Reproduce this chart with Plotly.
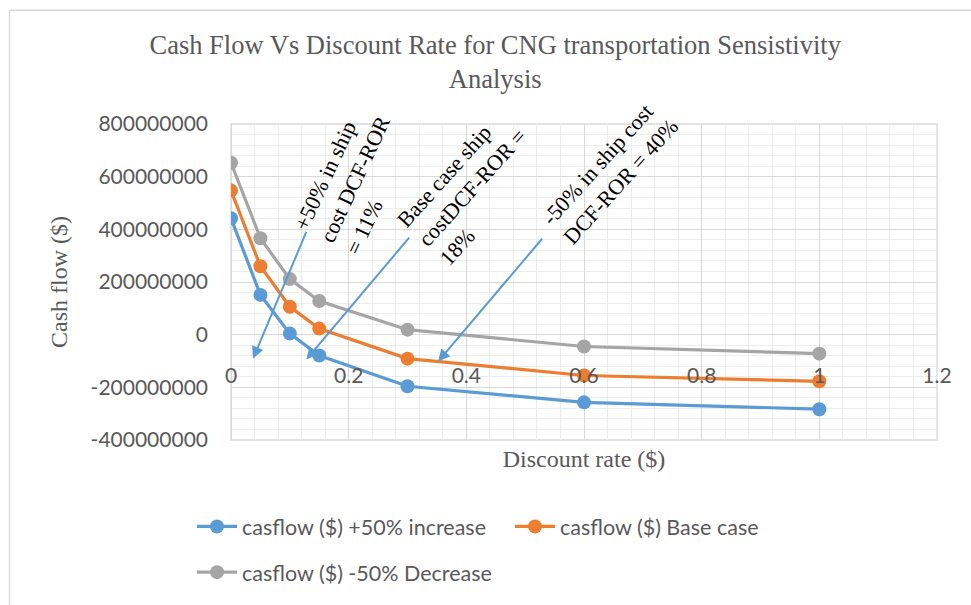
import plotly.graph_objects as go

# Discount rates evaluated and the resulting cash flow for each ship-cost case
discount_rate = [0, 0.05, 0.1, 0.15, 0.3, 0.6, 1.0]
cash_increase = [442e6, 151e6, 4e6, -79e6, -196e6, -257e6, -283e6]
cash_base = [547e6, 260e6, 106e6, 23e6, -91e6, -155e6, -177e6]
cash_decrease = [653e6, 366e6, 211e6, 128e6, 19e6, -45e6, -72e6]

series_names = ["casflow ($) +50% increase", "casflow ($) Base case", "casflow ($) -50% Decrease"]
series_colors = ["#5B9BD5", "#ED7D31", "#A5A5A5"]

y_tick_vals = [-400e6, -200e6, 0, 200e6, 400e6, 600e6, 800e6]
y_tick_text = ["-400000000", "-200000000", "0", "200000000", "400000000", "600000000", "800000000"]
x_tick_vals = [0, 0.2, 0.4, 0.6, 0.8, 1.0, 1.2]
x_tick_text = ["0", "0.2", "0.4", "0.6", "0.8", "1", "1.2"]

# Callouts: label text, text anchor, text angle, arrow tail and arrow tip (data units)
callout_text = [
    "+50% in ship<br>cost DCF-ROR<br>= 11%",
    "Base case ship<br>costDCF-ROR =<br>18%",
    "-50% in ship cost<br>DCF-ROR = 40%",
]
callout_pos = [(0.211, 590e6), (0.411, 559e6), (0.645, 616e6)]
callout_angle = [-65, -48, -48]
arrow_tail = [(0.129, 396e6), (0.305, 374e6), (0.531, 370e6)]
arrow_tip = [(0.0374, -91e6), (0.128, -94e6), (0.352, -102e6)]

GREY_TXT = "#595959"
GRID = "#D9D9D9"
SERIF = "Liberation Serif, Times New Roman, serif"
SANS = "Lato, Calibri, sans-serif"

fig = go.Figure()
legend_ids = ["legend", "legend2", "legend3"]
for name, ys, color, lg in zip(series_names, [cash_increase, cash_base, cash_decrease], series_colors, legend_ids):
    fig.add_trace(go.Scatter(
        x=discount_rate, y=ys, name=name, mode="lines+markers",
        line=dict(color=color, width=3.2),
        marker=dict(color=color, size=14),
        legend=lg, showlegend=True,
    ))

annotations = []
for txt, (tx, ty), ang in zip(callout_text, callout_pos, callout_angle):
    annotations.append(dict(
        x=tx, y=ty, xref="x", yref="y", text=txt, showarrow=False,
        textangle=ang, align="left",
        font=dict(family=SERIF, size=22, color="#000000"),
    ))
for (ax_, ay_), (hx, hy) in zip(arrow_tail, arrow_tip):
    annotations.append(dict(
        x=hx, y=hy, ax=ax_, ay=ay_, xref="x", yref="y", axref="x", ayref="y",
        text="", showarrow=True, arrowhead=2, arrowsize=1.2, arrowwidth=2,
        arrowcolor="#5B9BD5", standoff=0,
    ))

legend_style = dict(
    orientation="h", bgcolor="rgba(0,0,0,0)", borderwidth=0,
    font=dict(family=SANS, size=21.5, color=GREY_TXT),
    xanchor="left", yanchor="middle", itemwidth=40,
)

fig.update_layout(
    width=971, height=605,
    margin=dict(l=231, r=34, t=124, b=163),
    paper_bgcolor="white", plot_bgcolor="white",
    showlegend=True,
    title=dict(
        text="Cash Flow Vs Discount Rate for CNG transportation Sensistivity<br>Analysis",
        x=0.51, xanchor="center", xref="container",
        y=1 - 54 / 605, yanchor="middle", yref="container",
        font=dict(family=SERIF, size=26.5, color=GREY_TXT),
    ),
    # the value axis crosses at zero, so the discount-rate labels sit inside the plot
    xaxis=dict(
        range=[0, 1.2], tickvals=x_tick_vals, ticktext=x_tick_text,
        anchor="free", position=(442 - 362) / 318,
        tickfont=dict(family=SANS, size=21, color=GREY_TXT),
        showgrid=True, gridcolor=GRID, gridwidth=1.3,
        minor=dict(dtick=0.04, showgrid=True, gridcolor="#EDEDED", gridwidth=1.3),
        zeroline=True, zerolinecolor=GRID, zerolinewidth=1.3,
        showline=False,
        title=dict(text="Discount rate ($)", font=dict(family=SERIF, size=24, color=GREY_TXT), standoff=64),
    ),
    yaxis=dict(
        range=[-400e6, 800e6], tickvals=y_tick_vals, ticktext=y_tick_text,
        showgrid=True, gridcolor=GRID, gridwidth=1.3,
        minor=dict(dtick=40e6, showgrid=True, gridcolor="#EDEDED", gridwidth=1.3),
        zeroline=True, zerolinecolor=GRID, zerolinewidth=1.3,
        showline=False,
        ticklabelstandoff=22,
        tickfont=dict(family=SANS, size=21, color=GREY_TXT),
        title=dict(text="Cash flow ($)", font=dict(family=SERIF, size=24, color=GREY_TXT), standoff=16),
    ),
    legend=dict(x=(192 - 231) / 706, y=(442 - 529) / 318, **legend_style),
    legend2=dict(x=(510 - 231) / 706, y=(442 - 529) / 318, **legend_style),
    legend3=dict(x=(192 - 231) / 706, y=(442 - 575) / 318, **legend_style),
    annotations=annotations,
    shapes=[
        # chart-area border
        dict(
            type="rect", xref="paper", yref="paper",
            x0=(9.5 - 231) / 706, x1=(990 - 231) / 706,
            y0=(442 - 640) / 318, y1=(442 - 9.5) / 318,
            line=dict(color=GRID, width=1.5), fillcolor="rgba(0,0,0,0)", layer="below",
        ),
        # plot-area frame
        dict(
            type="rect", xref="paper", yref="paper", x0=0, x1=1, y0=0, y1=1,
            line=dict(color=GRID, width=1.3), fillcolor="rgba(0,0,0,0)", layer="below",
        ),
    ],
)

fig.write_html("out.html")
